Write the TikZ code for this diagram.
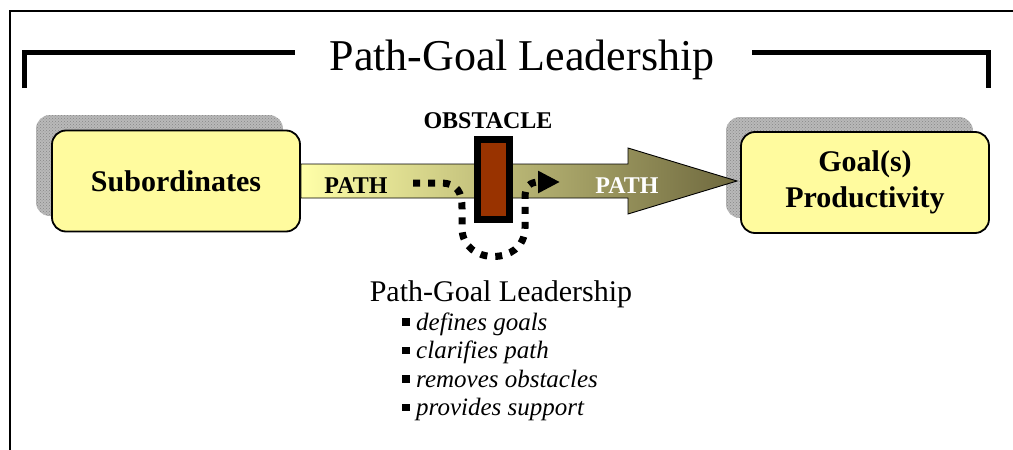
\documentclass[tikz,border=0pt]{standalone}
\usepackage{fontspec}
\setmainfont{Liberation Serif}
\usetikzlibrary{arrows.meta,patterns}
\definecolor{boxyellow}{HTML}{FFFB9E}
\definecolor{olivedark}{HTML}{6E683E}
\definecolor{lightpath}{HTML}{FFFFA8}
\definecolor{brick}{HTML}{993300}
\begin{document}
\begin{tikzpicture}[x=1pt,y=-1pt,
  box/.style={draw=black,line width=1.8pt,rounded corners=14pt,fill=boxyellow,
    minimum width=248pt,minimum height=101pt,inner sep=0pt,align=center,
    font=\fontsize{30}{36}\selectfont\bfseries},
  shadowfill/.style={fill=gray!55,rounded corners=14pt},
  shadowdots/.style={pattern=crosshatch dots,pattern color=gray!95,rounded corners=14pt},
  lbl/.style={inner sep=0pt,anchor=base},
  boldlbl/.style={lbl,font=\fontsize{24}{28}\selectfont\bfseries},
  bul/.style={inner sep=0pt,anchor=base west,font=\fontsize{25}{30}\selectfont\itshape},
  detour/.style={line width=7pt,dash pattern=on 7pt off 8pt,
    -{Triangle[length=22pt,width=21pt]}},
  bracket/.style={line width=5pt}
]
\useasboundingbox (0,0) rectangle (1013,450);
\clip (0,0) rectangle (1013,450);
\fill[white] (0,0) rectangle (1013,450);

% outer frame (cut by the page)
\draw[line width=1.8pt] (10,470) -- (10,11) -- (1030,11);

% title with bracket
\node[lbl,font=\fontsize{44}{50}\selectfont] (title) at (522,70) {Path-Goal Leadership};
\draw[bracket] (24,88) -- (24,52) -- (295,52);
\draw[bracket] (752,52) -- (988,52) -- (988,88);

% shadows
\fill[shadowfill] (36,115) rectangle (283,216);
\fill[shadowdots] (36,115) rectangle (283,216);
\fill[shadowfill] (726,117) rectangle (973,218);
\fill[shadowdots] (726,117) rectangle (973,218);

% boxes
\node[box] (s) at (176,181) {Subordinates};
\node[box] (g) at (865,182.5) {Goal(s)\\Productivity};

% path arrow
\shadedraw[left color=lightpath,right color=olivedark,draw=black,line width=0.9pt]
  (s.east |- 0,164) -- (628,164) -- (628,148) -- (737,181) -- (628,214)
  -- (628,198) -- (s.east |- 0,198) -- cycle;
\coordinate (tip) at (737,181);

\node[boldlbl] (p1) at (356,193) {PATH};
\node[boldlbl,text=white] (p2) at (627,193) {PATH};

% obstacle
\node[draw=black,line width=7pt,fill=brick,minimum width=32pt,minimum height=80pt,inner sep=0pt] (obs) at (493.5,179.5) {};
\node[boldlbl] (obslbl) at (488,128) {OBSTACLE};

% detour
\coordinate (d0) at (413,183);
\coordinate (d1) at (560,182);
\draw[detour] (d0) -- (440,183) .. controls (458,183) and (462,193) .. (462,208)
  -- (462,228) .. controls (462,266) and (525,266) .. (525,228)
  -- (525,198) .. controls (525,186) and (530,182) .. (d1);

% explanation
\node[lbl,font=\fontsize{30}{36}\selectfont] (pgl) at (501,301) {Path-Goal Leadership};
\node[bul] (b1) at (402,330) {\rule[4.5pt]{7.5pt}{7.5pt}\hspace{6.5pt}defines goals};
\node[bul] (b2) at (402,358.5) {\rule[4.5pt]{7.5pt}{7.5pt}\hspace{6.5pt}clarifies path};
\node[bul] (b3) at (402,387) {\rule[4.5pt]{7.5pt}{7.5pt}\hspace{6.5pt}removes obstacles};
\node[bul] (b4) at (402,415.5) {\rule[4.5pt]{7.5pt}{7.5pt}\hspace{6.5pt}provides support};
\end{tikzpicture}
\end{document}
